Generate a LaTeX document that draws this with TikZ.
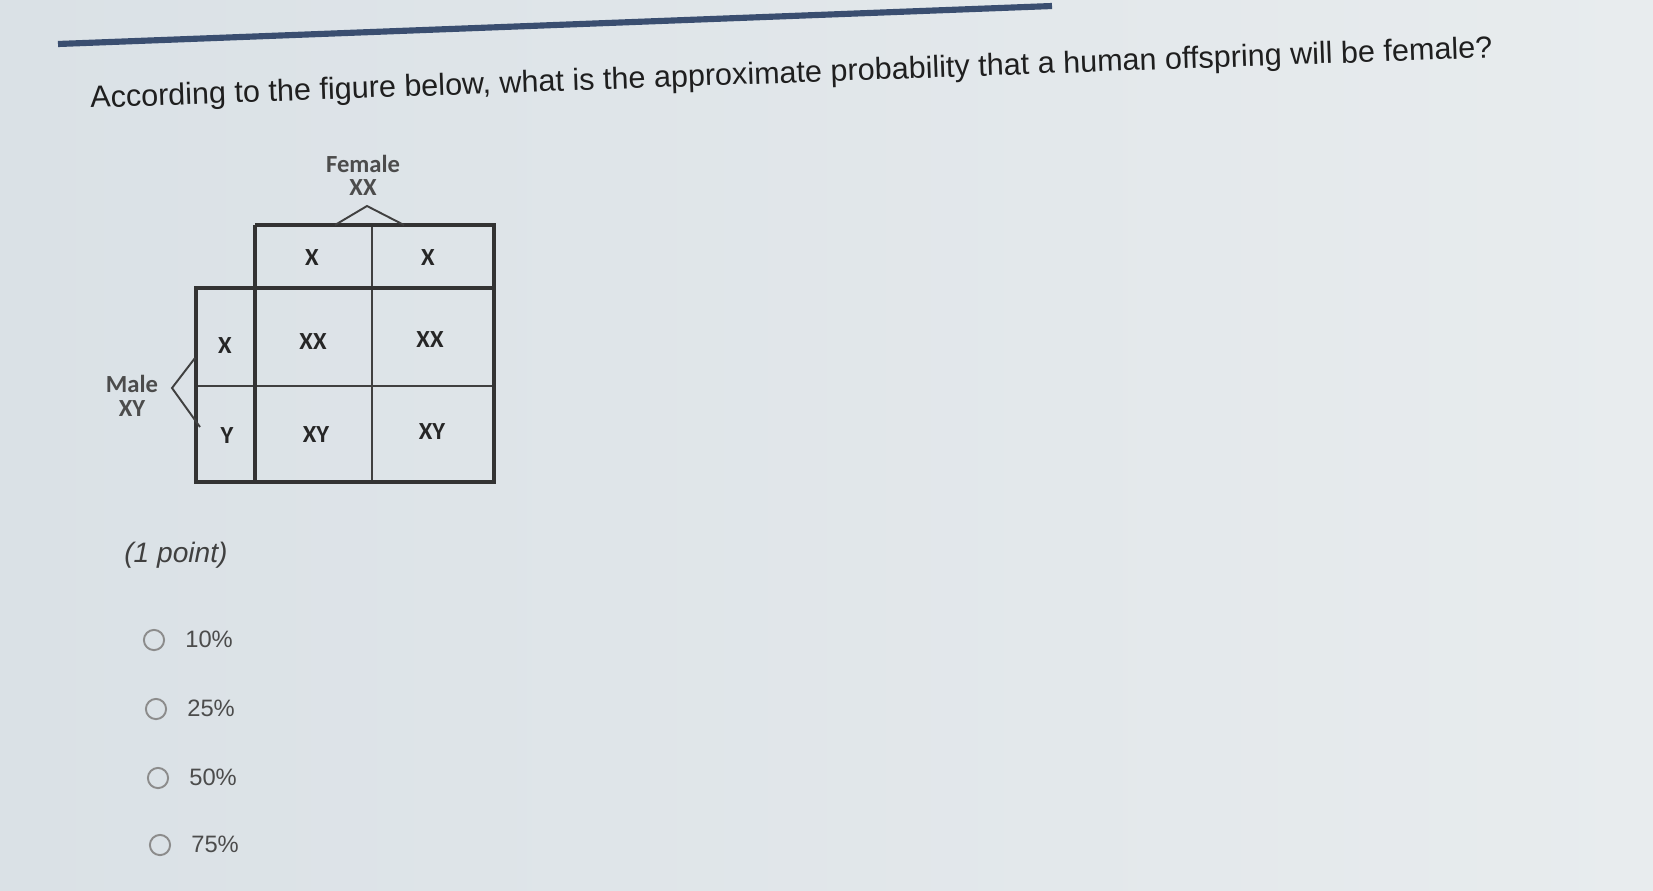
\documentclass[tikz,border=0pt]{standalone}
\usepackage{fontspec}
\setmainfont{Liberation Sans}
\newfontfamily\calib{Carlito}
\definecolor{bgl}{RGB}{218,225,230}
\definecolor{bgr}{RGB}{232,236,238}
\definecolor{barblue}{RGB}{58,78,112}
\begin{document}
\begin{tikzpicture}[x=0.02cm,y=-0.02cm,
 cell/.style={font=\calib\bfseries\fontsize{14}{14}\selectfont, text=black!85, inner sep=0pt},
 lbl/.style={font=\calib\bfseries\fontsize{14}{14}\selectfont, text=black!70, inner sep=0pt},
 opt/.style={font=\fontsize{13.5}{14}\selectfont, text=black!70, anchor=west, inner sep=0pt},
 radio/.style={circle, draw=black!45, line width=1.1pt, minimum size=11.5pt, inner sep=0pt},
 thickline/.style={line width=2.3pt, draw=black!80},
 thinline/.style={line width=1.1pt, draw=black!75}]
\useasboundingbox (0,0) rectangle (1653,890);
\shade[left color=bgl, right color=bgr] (0,0) rectangle (1653,890);
% top bar
\coordinate (b1) at (58,44);
\coordinate (b2) at (1052,6);
\draw[line width=3.5pt, barblue] (b1) -- (b2);
% title
\node[anchor=west, rotate=2.05, inner sep=0pt, font=\fontsize{17.4}{18}\selectfont, text=black!88] (title) at (90,100)
 {According to the figure below, what is the approximate probability that a human offspring will be female?};
% Punnett square grid
\coordinate (t1) at (255,225); \coordinate (t2) at (494,225);
\coordinate (h0) at (196,288); \coordinate (h1) at (255,288); \coordinate (h3) at (494,288);
\coordinate (m0) at (196,386); \coordinate (m3) at (494,386);
\coordinate (v2a) at (372,225); \coordinate (v2b) at (372,482);
\coordinate (f0) at (196,482); \coordinate (f1) at (255,482); \coordinate (f3) at (494,482);
\draw[thinline] (v2a) -- (v2b);
\draw[thinline] (m0) -- (m3);
\draw[thickline] (t1) -- (t2) -- (f3) -- (f0) -- (h0) -- (h3);
\draw[thickline] (t1) -- (f1);
% cell texts
\node[cell] (fx1) at (312,258) {X};
\node[cell] (fx2) at (428,258) {X};
\node[cell] (mx) at (225,346) {X};
\node[cell] (my) at (227,436) {Y};
\node[cell] (c11) at (313,342) {XX};
\node[cell] (c12) at (430,340) {XX};
\node[cell] (c21) at (316,435) {XY};
\node[cell] (c22) at (432,432) {XY};
% labels
\node[lbl] (fem) at (363,164) {Female};
\node[lbl] (femxx) at (363,188) {XX};
\node[lbl] (male) at (132,384) {Male};
\node[lbl] (malexy) at (132,409) {XY};
\coordinate (ca) at (335,225); \coordinate (cb) at (367,206); \coordinate (cc) at (404,225);
\draw[thinline] (ca) -- (cb) -- (cc);
\coordinate (ma) at (195,358); \coordinate (mb) at (172,388); \coordinate (mc) at (200,427);
\draw[thinline] (ma) -- (mb) -- (mc);
% points
\node[anchor=west, inner sep=0pt, font=\itshape\fontsize{16}{18}\selectfont, text=black!75] (pts) at (124,555) {(1 point)};
% options
\node[radio] (r1) at (154,640) {};
\node[opt] (o1) at (185,639) {10\%};
\node[radio] (r2) at (156,709) {};
\node[opt] (o2) at (187,708) {25\%};
\node[radio] (r3) at (158,778) {};
\node[opt] (o3) at (189,777) {50\%};
\node[radio] (r4) at (160,845) {};
\node[opt] (o4) at (191,844) {75\%};
\end{tikzpicture}
\end{document}
